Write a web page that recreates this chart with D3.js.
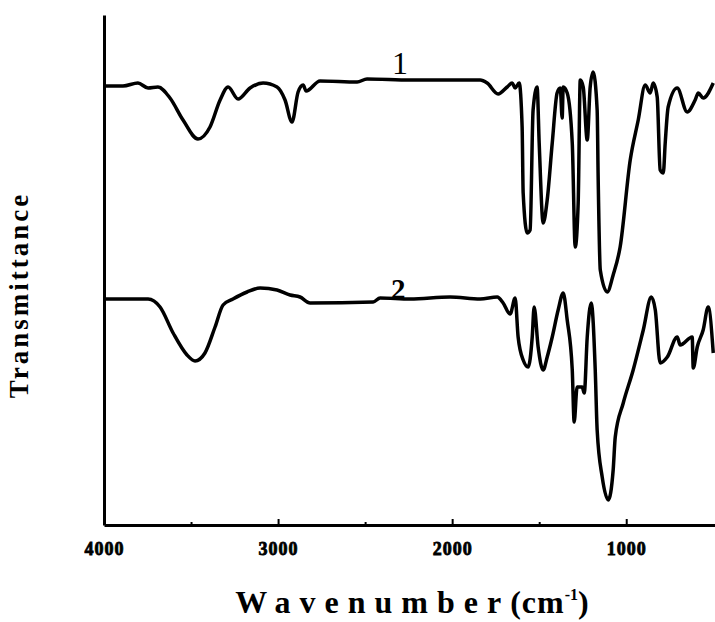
<!DOCTYPE html>
<html>
<head>
<meta charset="utf-8">
<script src="https://cdn.jsdelivr.net/npm/d3@7/dist/d3.min.js"></script>
<style>
  body { margin: 0; background: #fff; }
  svg text { font-family: "Liberation Serif", "Times New Roman", serif; font-weight: bold; fill: #000; }
</style>
</head>
<body>
<div id="chart"></div>
<script>
// FTIR spectra, wavenumber (cm-1) vs transmittance (a.u.)
const wave1 = [4000, 3891, 3805, 3747, 3690, 3621, 3546, 3460, 3391, 3333, 3287, 3230, 3161, 3086, 3006, 2960,
  2920, 2885, 2856, 2839, 2759, 2546, 2489, 2241, 2012, 1839, 1799, 1736, 1684, 1655, 1638, 1615, 1598, 1592,
  1569, 1552, 1535, 1512, 1500, 1477, 1454, 1425, 1397, 1379, 1368, 1362, 1339, 1310, 1293, 1276, 1264, 1247,
  1224, 1207, 1190, 1167, 1161, 1149, 1109, 1075, 1035, 977, 931, 891, 862, 845, 822, 805, 787, 776, 759, 707,
  650, 604, 586, 558, 500];
const trans1 = [87.8, 87.8, 88.4, 87.4, 87.6, 85.4, 81.0, 77.2, 79.6, 85.0, 87.6, 85.2, 87.4, 88.4, 87.6, 85.0,
  80.6, 86.6, 88.0, 86.8, 88.8, 88.6, 89.2, 89.0, 89.0, 89.0, 88.4, 86.2, 87.6, 88.4, 87.4, 88.4, 79.6, 66.4,
  58.4, 59.0, 83.0, 87.6, 76.4, 60.4, 65.0, 76.4, 86.4, 87.4, 81.4, 87.6, 86.4, 76.4, 55.6, 64.4, 89.0, 87.6,
  77.0, 87.6, 90.6, 83.0, 69.0, 51.0, 46.6, 50.0, 55.6, 73.0, 81.0, 88.0, 86.4, 88.4, 85.6, 71.0, 70.4, 76.4, 83.6, 87.4,
  82.6, 85.0, 86.4, 85.4, 88.4];

const wave2 = [4000, 3747, 3678, 3603, 3523, 3477, 3420, 3362, 3316, 3259, 3178, 3103, 3006, 2931, 2874, 2816,
  2454, 2414, 2241, 2012, 1839, 1741, 1707, 1667, 1638, 1621, 1592, 1563, 1540, 1529, 1506, 1477, 1454, 1425,
  1391, 1362, 1339, 1310, 1299, 1282, 1253, 1241, 1224, 1201, 1178, 1167, 1138, 1103, 1075, 1063, 1017, 960,
  902, 856, 833, 805, 764, 707, 690, 621, 615, 592, 558, 529, 500];
const trans2 = [45.2, 45.2, 43.6, 38.4, 34.0, 32.8, 34.4, 39.6, 44.0, 45.2, 46.6, 47.4, 47.0, 46.0, 45.6, 44.4,
  44.6, 45.4, 45.2, 45.6, 45.2, 45.6, 44.4, 42.2, 45.4, 37.6, 33.0, 31.6, 37.6, 43.6, 35.6, 31.0, 33.6, 37.6,
  43.0, 46.4, 41.0, 31.0, 20.6, 27.6, 27.6, 26.4, 37.6, 44.4, 31.0, 19.0, 9.6, 5.0, 11.0, 17.6, 24.4, 31.0,
  39.0, 45.6, 43.0, 32.4, 33.6, 37.6, 36.0, 37.6, 31.4, 35.6, 39.0, 43.6, 34.4];

const seriesNames = ["1", "2"];
const nameAt = [2300, 2310];
const xTicks = [4000, 3000, 2000, 1000];
const xMinor = [3500, 2500, 1500];

const width = 715, height = 622;
const margin = { top: 15, right: 0, bottom: 97, left: 104 };

const svg = d3.select("#chart")
  .append("svg")
  .attr("width", width)
  .attr("height", height);

svg.append("rect").attr("width", width).attr("height", height).attr("fill", "#fff");

const x = d3.scaleLinear()
  .domain([4000, 490])
  .range([margin.left, width - margin.right]);

const y = d3.scaleLinear()
  .domain([0, 102])
  .range([height - margin.bottom, margin.top]);

// axes
const xAxis = svg.append("g")
  .attr("transform", `translate(0,${height - margin.bottom})`)
  .call(d3.axisBottom(x)
    .tickValues(xTicks)
    .tickSizeInner(-6)
    .tickSizeOuter(0)
    .tickPadding(17)
    .tickFormat(d3.format("d")));
xAxis.select(".domain").attr("stroke-width", 3);
xAxis.selectAll(".tick line").attr("stroke-width", 2);
xAxis.selectAll(".tick text")
  .style("font-size", "18px")
  .style("letter-spacing", "1px")
  .attr("stroke", "#000")
  .attr("stroke-width", 0.8);

svg.append("g")
  .attr("transform", `translate(0,${height - margin.bottom})`)
  .call(d3.axisBottom(x).tickValues(xMinor).tickSizeInner(-3).tickSizeOuter(0).tickFormat(""))
  .call(g => g.select(".domain").remove())
  .selectAll(".tick line").attr("stroke-width", 2);

const yAxis = svg.append("g")
  .attr("transform", `translate(${margin.left},0)`)
  .call(d3.axisLeft(y).tickValues([]).tickSizeOuter(0));
yAxis.select(".domain").attr("stroke-width", 3);

// spectra
const line = d3.line()
  .x(d => x(d[0]))
  .y(d => y(d[1]))
  .curve(d3.curveMonotoneX);

const series = [
  d3.zip(wave1, trans1),
  d3.zip(wave2, trans2)
];

series.forEach((s, i) => {
  svg.append("path")
    .datum(s)
    .attr("fill", "none")
    .attr("stroke", "#000")
    .attr("stroke-width", 3.5)
    .attr("stroke-linejoin", "round")
    .attr("d", line);

  // curve number sitting on the line
  const near = s.reduce((a, b) => Math.abs(b[0] - nameAt[i]) < Math.abs(a[0] - nameAt[i]) ? b : a);
  svg.append("text")
    .attr("x", x(nameAt[i]))
    .attr("y", y(near[1]) - (i === 0 ? 6 : 0))
    .attr("text-anchor", "middle")
    .style("font-size", i === 0 ? "32px" : "29px")
    .style("font-weight", i === 0 ? "normal" : "bold")
    .text(seriesNames[i]);
});

// axis titles
const xt = svg.append("text")
  .attr("x", 412)
  .attr("y", 613)
  .attr("text-anchor", "middle")
  .style("font-size", "32px");
xt.append("tspan").style("letter-spacing", "9px").text("Wavenumber");
xt.append("tspan").style("letter-spacing", "1px").text("(cm");
xt.append("tspan").attr("dy", -13).style("font-size", "16px").text("-1");
xt.append("tspan").attr("dy", 13).text(")");

svg.append("text")
  .attr("transform", "translate(28,295) rotate(-90)")
  .attr("text-anchor", "middle")
  .style("font-size", "27px")
  .style("letter-spacing", "3px")
  .text("Transmittance");
</script>
</body>
</html>
